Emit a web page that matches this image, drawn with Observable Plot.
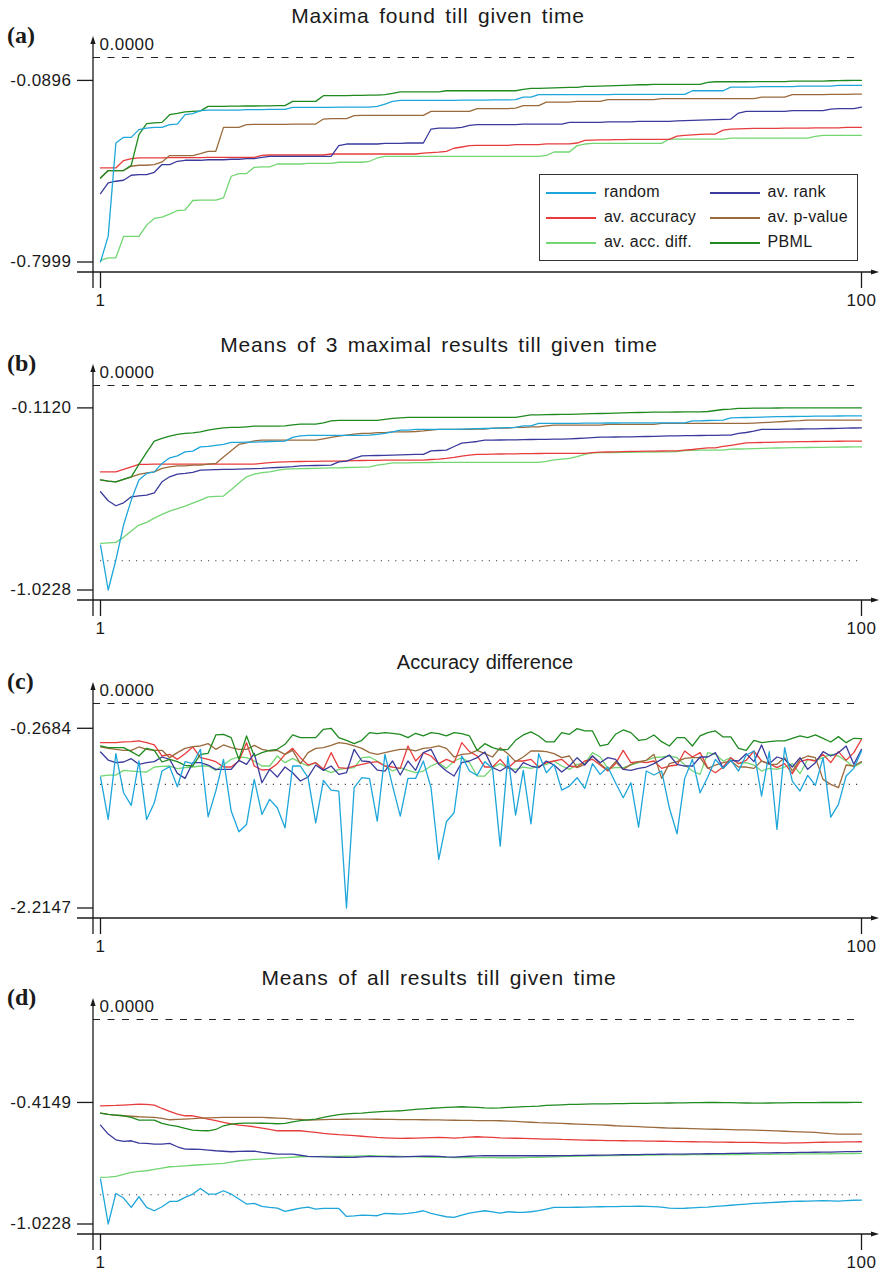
<!DOCTYPE html>
<html><head><meta charset="utf-8">
<script src="https://cdn.jsdelivr.net/npm/d3@7"></script>
<script src="https://cdn.jsdelivr.net/npm/@observablehq/plot@0.6"></script>
<style>
body{margin:0;background:#fff;}
#root{position:relative;width:882px;height:1271px;font-family:"Liberation Sans",Arial,Helvetica,sans-serif;color:#1a1a1a;}
.title{position:absolute;left:0;width:876px;text-align:center;font-size:21px;letter-spacing:0.8px;word-spacing:3px;line-height:24px;white-space:nowrap;}
.tag{position:absolute;left:7px;font-family:"Liberation Serif","Times New Roman",serif;font-weight:bold;font-size:24px;line-height:24px;}
.panel{position:absolute;left:0;}
.legend{position:absolute;left:539px;top:173.7px;width:317px;height:85px;border:1.4px solid #333;background:#fff;}
.lg-line{position:absolute;width:50px;height:2px;}
.lg-text{position:absolute;font-size:16px;letter-spacing:0.3px;line-height:18px;white-space:nowrap;}
</style></head><body><div id="root"></div>
<script>
// ---------- data ----------
const seriesNames = ["random", "av. rank", "av. accuracy", "av. p-value", "av. acc. diff.", "PBML"];
const seriesColors = ["#1ea6da", "#3a3a9c", "#e83c3c", "#9a6a3c", "#72d672", "#1f8a1f"];
const titles = ["Maxima found till given time", "Means of 3 maximal results till given time", "Accuracy difference", "Means of all results till given time"];
const tags = ["(a)", "(b)", "(c)", "(d)"];
const xTicks = [1, 100];
const yTicksA = [-0.0896, -0.7999];
const yTicksB = [-0.1120, -1.0228];
const yTicksC = [-0.2684, -2.2147];
const yTicksD = [-0.4149, -1.0228];
const randomMean = -0.8765;

// (a) Maxima found till given time
const randomA = [
-0.7999,-0.6987,-0.3345,-0.3123,-0.3123,-0.2822,-0.2760,-0.2732,-0.2732,-0.2627,
-0.2603,-0.2237,-0.2197,-0.2080,-0.2057,-0.2057,-0.2057,-0.2057,-0.2057,-0.2040,
-0.2040,-0.2040,-0.2030,-0.2030,-0.2030,-0.1952,-0.1952,-0.1952,-0.1952,-0.1952,
-0.1952,-0.1940,-0.1940,-0.1940,-0.1940,-0.1940,-0.1913,-0.1823,-0.1717,-0.1678,
-0.1678,-0.1678,-0.1678,-0.1678,-0.1678,-0.1678,-0.1678,-0.1670,-0.1670,-0.1670,
-0.1670,-0.1660,-0.1660,-0.1660,-0.1651,-0.1550,-0.1550,-0.1456,-0.1456,-0.1456,
-0.1456,-0.1456,-0.1456,-0.1456,-0.1456,-0.1456,-0.1456,-0.1444,-0.1444,-0.1444,
-0.1444,-0.1444,-0.1444,-0.1444,-0.1444,-0.1444,-0.1444,-0.1300,-0.1300,-0.1300,
-0.1300,-0.1300,-0.1159,-0.1159,-0.1159,-0.1159,-0.1140,-0.1140,-0.1140,-0.1140,
-0.1140,-0.1120,-0.1120,-0.1120,-0.1120,-0.1120,-0.1093,-0.1093,-0.1093,-0.1093];
const rankA = [
-0.5320,-0.4906,-0.4840,-0.4801,-0.4606,-0.4578,-0.4578,-0.4489,-0.4188,-0.4188,
-0.4059,-0.4020,-0.4020,-0.4020,-0.4000,-0.4000,-0.4000,-0.3980,-0.3980,-0.3954,
-0.3954,-0.3903,-0.3864,-0.3864,-0.3864,-0.3864,-0.3864,-0.3864,-0.3864,-0.3864,
-0.3864,-0.3447,-0.3384,-0.3384,-0.3384,-0.3384,-0.3384,-0.3360,-0.3360,-0.3360,
-0.3345,-0.3345,-0.3345,-0.2799,-0.2760,-0.2760,-0.2760,-0.2732,-0.2654,-0.2627,
-0.2627,-0.2627,-0.2627,-0.2627,-0.2627,-0.2603,-0.2603,-0.2603,-0.2603,-0.2603,
-0.2603,-0.2537,-0.2537,-0.2537,-0.2537,-0.2537,-0.2520,-0.2520,-0.2520,-0.2520,
-0.2498,-0.2498,-0.2498,-0.2498,-0.2498,-0.2480,-0.2470,-0.2460,-0.2450,-0.2440,
-0.2430,-0.2420,-0.2408,-0.2174,-0.2108,-0.2108,-0.2108,-0.2108,-0.2108,-0.2108,
-0.2080,-0.2080,-0.2080,-0.2080,-0.2080,-0.2018,-0.2002,-0.2002,-0.2002,-0.1940];
const accuracyA = [
-0.4321,-0.4321,-0.4321,-0.4032,-0.3954,-0.3930,-0.3930,-0.3930,-0.3930,-0.3915,
-0.3915,-0.3915,-0.3915,-0.3915,-0.3903,-0.3903,-0.3903,-0.3903,-0.3903,-0.3903,
-0.3903,-0.3825,-0.3813,-0.3813,-0.3813,-0.3813,-0.3813,-0.3813,-0.3813,-0.3813,
-0.3774,-0.3774,-0.3774,-0.3774,-0.3774,-0.3774,-0.3774,-0.3774,-0.3774,-0.3774,
-0.3774,-0.3774,-0.3740,-0.3720,-0.3700,-0.3669,-0.3550,-0.3501,-0.3450,-0.3435,
-0.3435,-0.3435,-0.3435,-0.3435,-0.3410,-0.3410,-0.3410,-0.3410,-0.3380,-0.3380,
-0.3380,-0.3380,-0.3345,-0.3240,-0.3230,-0.3220,-0.3220,-0.3210,-0.3210,-0.3201,
-0.3201,-0.3201,-0.3201,-0.3201,-0.3201,-0.3072,-0.3044,-0.3030,-0.3010,-0.2994,
-0.2994,-0.2838,-0.2800,-0.2790,-0.2780,-0.2771,-0.2771,-0.2771,-0.2771,-0.2760,
-0.2760,-0.2760,-0.2760,-0.2750,-0.2750,-0.2750,-0.2750,-0.2732,-0.2732,-0.2732];
const pvalueA = [
-0.4711,-0.4422,-0.4422,-0.4422,-0.4254,-0.4215,-0.4215,-0.4188,-0.4087,-0.3837,
-0.3837,-0.3837,-0.3837,-0.3759,-0.3669,-0.3669,-0.2732,-0.2732,-0.2732,-0.2627,
-0.2615,-0.2615,-0.2615,-0.2615,-0.2615,-0.2603,-0.2603,-0.2603,-0.2603,-0.2408,
-0.2393,-0.2393,-0.2393,-0.2276,-0.2264,-0.2264,-0.2264,-0.2264,-0.2264,-0.2264,
-0.2264,-0.2264,-0.2264,-0.2108,-0.2108,-0.2108,-0.2108,-0.2108,-0.2108,-0.2002,
-0.2002,-0.2002,-0.2002,-0.2002,-0.1979,-0.1885,-0.1885,-0.1885,-0.1745,-0.1745,
-0.1745,-0.1745,-0.1717,-0.1717,-0.1717,-0.1717,-0.1651,-0.1651,-0.1651,-0.1651,
-0.1651,-0.1651,-0.1651,-0.1612,-0.1612,-0.1612,-0.1612,-0.1612,-0.1612,-0.1612,
-0.1612,-0.1612,-0.1612,-0.1612,-0.1612,-0.1612,-0.1550,-0.1550,-0.1550,-0.1550,
-0.1456,-0.1456,-0.1456,-0.1456,-0.1456,-0.1444,-0.1444,-0.1444,-0.1432,-0.1432];
const accDiffA = [
-0.7935,-0.7834,-0.7834,-0.6998,-0.6998,-0.6998,-0.6557,-0.6296,-0.6245,-0.6128,
-0.5984,-0.5972,-0.5593,-0.5582,-0.5582,-0.5582,-0.5492,-0.4645,-0.4539,-0.4539,
-0.4294,-0.4282,-0.4282,-0.4165,-0.4165,-0.4165,-0.4165,-0.4140,-0.4140,-0.4140,
-0.4140,-0.4098,-0.4098,-0.4098,-0.4098,-0.4059,-0.3930,-0.3864,-0.3864,-0.3864,
-0.3864,-0.3864,-0.3864,-0.3864,-0.3864,-0.3864,-0.3864,-0.3864,-0.3864,-0.3864,
-0.3864,-0.3864,-0.3864,-0.3864,-0.3864,-0.3864,-0.3864,-0.3864,-0.3825,-0.3696,
-0.3696,-0.3696,-0.3447,-0.3384,-0.3357,-0.3357,-0.3357,-0.3357,-0.3357,-0.3357,
-0.3357,-0.3357,-0.3357,-0.3357,-0.3189,-0.3189,-0.3189,-0.3189,-0.3189,-0.3189,
-0.3189,-0.3189,-0.3150,-0.3150,-0.3150,-0.3150,-0.3150,-0.3150,-0.3150,-0.3150,
-0.3150,-0.3150,-0.3150,-0.3084,-0.3044,-0.3044,-0.3044,-0.3044,-0.3044,-0.3044];
const pbmlA = [
-0.4711,-0.4422,-0.4422,-0.4422,-0.4215,-0.3017,-0.2588,-0.2557,-0.2537,-0.2237,
-0.2186,-0.2127,-0.2108,-0.2088,-0.1913,-0.1913,-0.1913,-0.1905,-0.1905,-0.1898,
-0.1898,-0.1893,-0.1893,-0.1885,-0.1885,-0.1717,-0.1717,-0.1717,-0.1717,-0.1495,
-0.1495,-0.1490,-0.1490,-0.1480,-0.1480,-0.1470,-0.1470,-0.1456,-0.1405,-0.1347,
-0.1347,-0.1347,-0.1347,-0.1347,-0.1347,-0.1300,-0.1300,-0.1300,-0.1300,-0.1300,
-0.1300,-0.1300,-0.1300,-0.1300,-0.1300,-0.1249,-0.1210,-0.1210,-0.1200,-0.1190,
-0.1180,-0.1171,-0.1171,-0.1132,-0.1132,-0.1120,-0.1110,-0.1100,-0.1093,-0.1080,
-0.1066,-0.1066,-0.1054,-0.1054,-0.1054,-0.1054,-0.1054,-0.1054,-0.1054,-0.0976,
-0.0948,-0.0948,-0.0948,-0.0948,-0.0948,-0.0940,-0.0940,-0.0940,-0.0940,-0.0940,
-0.0925,-0.0925,-0.0925,-0.0925,-0.0925,-0.0909,-0.0905,-0.0900,-0.0896,-0.0896];

// (b) Means of 3 maximal results till given time
const randomB = [
-0.7979,-1.0228,-0.8729,-0.6980,-0.5731,-0.4731,-0.4397,-0.4317,-0.3897,-0.3617,
-0.3517,-0.3317,-0.3283,-0.3068,-0.3048,-0.2998,-0.2948,-0.2848,-0.2848,-0.2830,
-0.2830,-0.2815,-0.2800,-0.2798,-0.2783,-0.2598,-0.2518,-0.2498,-0.2498,-0.2498,
-0.2498,-0.2498,-0.2498,-0.2498,-0.2498,-0.2483,-0.2448,-0.2398,-0.2318,-0.2233,
-0.2233,-0.2198,-0.2198,-0.2198,-0.2198,-0.2198,-0.2198,-0.2180,-0.2170,-0.2160,
-0.2150,-0.2140,-0.2120,-0.2110,-0.2098,-0.2018,-0.2018,-0.1899,-0.1899,-0.1899,
-0.1899,-0.1895,-0.1890,-0.1885,-0.1880,-0.1880,-0.1875,-0.1875,-0.1870,-0.1870,
-0.1870,-0.1869,-0.1869,-0.1869,-0.1869,-0.1869,-0.1869,-0.1769,-0.1769,-0.1750,
-0.1740,-0.1734,-0.1619,-0.1610,-0.1600,-0.1590,-0.1580,-0.1570,-0.1560,-0.1555,
-0.1550,-0.1545,-0.1540,-0.1535,-0.1530,-0.1528,-0.1525,-0.1522,-0.1520,-0.1519];
const rankB = [
-0.5316,-0.5766,-0.6015,-0.5866,-0.5566,-0.5520,-0.5481,-0.5366,-0.4816,-0.4567,
-0.4432,-0.4397,-0.4347,-0.4232,-0.4220,-0.4210,-0.4200,-0.4190,-0.4180,-0.4170,
-0.4160,-0.4147,-0.4120,-0.4100,-0.4080,-0.4060,-0.4017,-0.4010,-0.4000,-0.3990,
-0.3982,-0.3817,-0.3782,-0.3650,-0.3517,-0.3510,-0.3500,-0.3490,-0.3480,-0.3470,
-0.3460,-0.3447,-0.3447,-0.3268,-0.3250,-0.3233,-0.3050,-0.2883,-0.2840,-0.2800,
-0.2733,-0.2730,-0.2725,-0.2720,-0.2715,-0.2710,-0.2700,-0.2695,-0.2690,-0.2685,
-0.2683,-0.2670,-0.2650,-0.2630,-0.2610,-0.2583,-0.2580,-0.2575,-0.2570,-0.2565,
-0.2560,-0.2550,-0.2540,-0.2530,-0.2520,-0.2518,-0.2510,-0.2505,-0.2500,-0.2495,
-0.2490,-0.2485,-0.2483,-0.2398,-0.2350,-0.2280,-0.2198,-0.2195,-0.2190,-0.2185,
-0.2180,-0.2175,-0.2170,-0.2165,-0.2160,-0.2150,-0.2140,-0.2130,-0.2125,-0.2118];
const accuracyB = [
-0.4317,-0.4317,-0.4317,-0.4197,-0.4070,-0.3947,-0.3940,-0.3932,-0.3932,-0.3932,
-0.3932,-0.3932,-0.3932,-0.3932,-0.3932,-0.3932,-0.3932,-0.3932,-0.3932,-0.3932,
-0.3932,-0.3900,-0.3860,-0.3830,-0.3817,-0.3810,-0.3800,-0.3795,-0.3790,-0.3785,
-0.3782,-0.3782,-0.3770,-0.3760,-0.3750,-0.3745,-0.3740,-0.3736,-0.3733,-0.3732,
-0.3732,-0.3732,-0.3732,-0.3700,-0.3680,-0.3647,-0.3597,-0.3530,-0.3480,-0.3447,
-0.3440,-0.3430,-0.3425,-0.3420,-0.3415,-0.3410,-0.3405,-0.3400,-0.3397,-0.3397,
-0.3397,-0.3397,-0.3397,-0.3397,-0.3360,-0.3333,-0.3325,-0.3315,-0.3305,-0.3295,
-0.3290,-0.3285,-0.3280,-0.3275,-0.3270,-0.3268,-0.3230,-0.3200,-0.3160,-0.3118,
-0.3118,-0.3050,-0.2990,-0.2933,-0.2868,-0.2860,-0.2850,-0.2840,-0.2830,-0.2820,
-0.2815,-0.2810,-0.2805,-0.2800,-0.2795,-0.2790,-0.2788,-0.2786,-0.2784,-0.2783];
const pvalueB = [
-0.4716,-0.4781,-0.4816,-0.4696,-0.4567,-0.4447,-0.4367,-0.4317,-0.4147,-0.4067,
-0.4017,-0.4017,-0.3982,-0.3982,-0.3932,-0.3897,-0.3582,-0.3268,-0.2948,-0.2868,
-0.2768,-0.2733,-0.2733,-0.2733,-0.2733,-0.2733,-0.2733,-0.2733,-0.2733,-0.2668,
-0.2598,-0.2533,-0.2483,-0.2433,-0.2398,-0.2398,-0.2358,-0.2358,-0.2318,-0.2318,
-0.2318,-0.2300,-0.2273,-0.2233,-0.2198,-0.2198,-0.2198,-0.2198,-0.2198,-0.2183,
-0.2183,-0.2133,-0.2133,-0.2133,-0.2098,-0.2098,-0.2068,-0.2068,-0.2018,-0.1984,
-0.1984,-0.1984,-0.1984,-0.1984,-0.1984,-0.1984,-0.1949,-0.1949,-0.1949,-0.1949,
-0.1949,-0.1949,-0.1949,-0.1899,-0.1899,-0.1899,-0.1899,-0.1899,-0.1899,-0.1899,
-0.1899,-0.1899,-0.1899,-0.1899,-0.1899,-0.1880,-0.1859,-0.1840,-0.1819,-0.1800,
-0.1774,-0.1760,-0.1734,-0.1734,-0.1734,-0.1734,-0.1734,-0.1734,-0.1734,-0.1734];
const accDiffB = [
-0.7894,-0.7870,-0.7844,-0.7594,-0.7279,-0.6980,-0.6845,-0.6630,-0.6445,-0.6280,
-0.6155,-0.6030,-0.5881,-0.5731,-0.5566,-0.5550,-0.5531,-0.5211,-0.4881,-0.4567,
-0.4432,-0.4360,-0.4317,-0.4250,-0.4182,-0.4170,-0.4160,-0.4150,-0.4140,-0.4130,
-0.4120,-0.4117,-0.4100,-0.4090,-0.4080,-0.4067,-0.3982,-0.3930,-0.3867,-0.3867,
-0.3867,-0.3860,-0.3855,-0.3850,-0.3847,-0.3847,-0.3847,-0.3847,-0.3847,-0.3847,
-0.3847,-0.3847,-0.3847,-0.3847,-0.3847,-0.3847,-0.3847,-0.3847,-0.3800,-0.3720,
-0.3680,-0.3647,-0.3560,-0.3450,-0.3367,-0.3360,-0.3355,-0.3350,-0.3345,-0.3340,
-0.3335,-0.3330,-0.3325,-0.3320,-0.3317,-0.3300,-0.3250,-0.3240,-0.3235,-0.3233,
-0.3233,-0.3233,-0.3183,-0.3175,-0.3165,-0.3155,-0.3145,-0.3135,-0.3125,-0.3115,
-0.3110,-0.3105,-0.3100,-0.3095,-0.3090,-0.3085,-0.3080,-0.3075,-0.3070,-0.3068];
const pbmlB = [
-0.4716,-0.4781,-0.4816,-0.4696,-0.4567,-0.3947,-0.3347,-0.2783,-0.2648,-0.2533,
-0.2448,-0.2398,-0.2368,-0.2318,-0.2233,-0.2168,-0.2118,-0.2098,-0.2098,-0.2068,
-0.2033,-0.2033,-0.2033,-0.2033,-0.2018,-0.1969,-0.1934,-0.1934,-0.1934,-0.1869,
-0.1769,-0.1749,-0.1749,-0.1749,-0.1749,-0.1749,-0.1749,-0.1699,-0.1649,-0.1619,
-0.1590,-0.1590,-0.1590,-0.1590,-0.1590,-0.1590,-0.1590,-0.1590,-0.1590,-0.1590,
-0.1590,-0.1590,-0.1590,-0.1590,-0.1590,-0.1530,-0.1469,-0.1469,-0.1460,-0.1450,
-0.1445,-0.1440,-0.1434,-0.1420,-0.1410,-0.1400,-0.1390,-0.1380,-0.1369,-0.1360,
-0.1350,-0.1340,-0.1334,-0.1330,-0.1330,-0.1325,-0.1320,-0.1319,-0.1319,-0.1300,
-0.1250,-0.1200,-0.1184,-0.1149,-0.1140,-0.1135,-0.1130,-0.1128,-0.1126,-0.1124,
-0.1122,-0.1121,-0.1120,-0.1120,-0.1120,-0.1120,-0.1120,-0.1120,-0.1120,-0.1120];

// (c) Accuracy difference
const randomC = [
-0.7964,-1.2557,-0.5432,-0.9664,-1.1038,-0.6228,-1.2557,-1.0752,-0.7313,-0.6843,
-0.9013,-0.6300,-0.6517,-0.4962,-1.2268,-0.9483,-0.6047,-1.1653,-1.3895,-1.3100,
-0.8217,-1.2014,-1.0387,-1.1291,-1.3461,-0.6770,-0.6770,-0.8036,-1.2919,-0.8325,
-0.9374,-0.9483,-2.2147,-0.9121,-0.8036,-0.8145,-1.2738,-0.5504,-0.8940,-1.2195,
-0.8109,-0.8109,-0.6228,-0.9121,-1.6897,-1.2810,-1.1834,-0.5685,-0.7313,-0.7783,
-0.6300,-0.7024,-1.5450,-0.5685,-1.2087,-0.7241,-1.3027,-0.5432,-0.7494,-0.6590,
-0.9374,-0.8940,-0.8036,-0.9193,-0.6517,-0.7675,-0.6879,-0.8579,-1.0206,-0.8579,
-1.3389,-0.7313,-0.7747,-0.7313,-1.1291,-1.4112,-0.8109,-0.6047,-0.9664,-0.7964,
-0.6047,-0.7024,-0.6120,-0.7313,-0.5577,-0.5143,-1.0022,-0.5215,-1.3642,-0.4781,
-0.8398,-0.9483,-0.7783,-0.8868,-0.5866,-1.2304,-1.0933,-0.7856,-0.7024,-0.5143];
const rankC = [
-0.5251,-0.6120,-0.6409,-0.6336,-0.5975,-0.6590,-0.6409,-0.6300,-0.5794,-0.6047,
-0.7566,-0.8109,-0.6409,-0.6409,-0.6662,-0.7132,-0.7132,-0.7132,-0.6156,-0.6590,
-0.5396,-0.8579,-0.7132,-0.7964,-0.6879,-0.7494,-0.8398,-0.7964,-0.6662,-0.7241,
-0.6770,-0.7675,-0.7494,-0.4962,-0.6228,-0.6300,-0.7204,-0.7313,-0.6228,-0.7747,
-0.6228,-0.7241,-0.5324,-0.4962,-0.6590,-0.7313,-0.7856,-0.6409,-0.6228,-0.5866,
-0.5251,-0.6951,-0.7313,-0.6770,-0.7494,-0.6409,-0.6770,-0.6951,-0.6228,-0.6662,
-0.7421,-0.6770,-0.5866,-0.6662,-0.5685,-0.6409,-0.5866,-0.6047,-0.7132,-0.7241,
-0.7024,-0.6879,-0.6517,-0.6047,-0.5577,-0.6590,-0.6770,-0.6770,-0.5794,-0.5794,
-0.5324,-0.7024,-0.6156,-0.6228,-0.5432,-0.6300,-0.4492,-0.6517,-0.5794,-0.6047,
-0.6879,-0.5866,-0.7132,-0.6409,-0.5215,-0.5685,-0.5324,-0.4601,-0.6590,-0.4962];
const accuracyC = [
-0.4239,-0.4239,-0.4239,-0.4166,-0.4130,-0.4058,-0.4239,-0.4492,-0.5685,-0.5504,
-0.6047,-0.5432,-0.4709,-0.5866,-0.6047,-0.6300,-0.6879,-0.6879,-0.6228,-0.4239,
-0.6770,-0.7204,-0.7132,-0.6517,-0.5504,-0.4854,-0.5866,-0.6662,-0.6409,-0.7132,
-0.5324,-0.6951,-0.7024,-0.6770,-0.6590,-0.6409,-0.6300,-0.6770,-0.6879,-0.7024,
-0.4601,-0.6228,-0.5324,-0.5685,-0.6517,-0.6047,-0.6409,-0.4239,-0.5215,-0.5685,
-0.6879,-0.6879,-0.6047,-0.7024,-0.6228,-0.6228,-0.6047,-0.6879,-0.6409,-0.6228,
-0.6047,-0.6770,-0.6879,-0.6228,-0.6047,-0.6662,-0.7313,-0.6517,-0.5071,-0.6409,
-0.6300,-0.6409,-0.6228,-0.7024,-0.6770,-0.6662,-0.5143,-0.5794,-0.5324,-0.6951,
-0.7494,-0.6879,-0.5866,-0.6517,-0.6156,-0.5143,-0.6228,-0.6517,-0.6951,-0.6517,
-0.7602,-0.6300,-0.6047,-0.6228,-0.5504,-0.6409,-0.5215,-0.6156,-0.5324,-0.3877];
const pvalueC = [
-0.4709,-0.4854,-0.4962,-0.5071,-0.5071,-0.4709,-0.4962,-0.5071,-0.5071,-0.5866,
-0.5324,-0.4854,-0.4673,-0.4601,-0.4347,-0.4962,-0.4492,-0.4781,-0.4962,-0.4962,
-0.4528,-0.4962,-0.5143,-0.5071,-0.5504,-0.5071,-0.6517,-0.5324,-0.4854,-0.4781,
-0.4528,-0.4239,-0.4347,-0.4601,-0.4854,-0.5324,-0.5504,-0.5324,-0.5143,-0.4962,
-0.4962,-0.5143,-0.4854,-0.4781,-0.4601,-0.4854,-0.5794,-0.5504,-0.5432,-0.5071,
-0.5432,-0.5794,-0.4781,-0.5432,-0.6300,-0.5794,-0.5143,-0.5143,-0.5215,-0.5432,
-0.5866,-0.5685,-0.6951,-0.6590,-0.5685,-0.6517,-0.7241,-0.6300,-0.7132,-0.6590,
-0.6300,-0.6156,-0.5504,-0.8109,-0.6517,-0.6300,-0.5939,-0.5866,-0.5866,-0.7024,
-0.6662,-0.6409,-0.6228,-0.6879,-0.6879,-0.7024,-0.6228,-0.6590,-0.6590,-0.5866,
-0.7313,-0.6047,-0.5685,-0.5866,-0.8217,-0.8760,-0.9121,-0.6662,-0.6770,-0.6300];
const accDiffC = [
-0.7856,-0.7747,-0.7747,-0.7241,-0.7313,-0.7385,-0.7421,-0.6879,-0.6807,-0.6770,
-0.7060,-0.6951,-0.6879,-0.6770,-0.6770,-0.7241,-0.6662,-0.6047,-0.5794,-0.5866,
-0.6228,-0.6770,-0.6770,-0.5685,-0.6409,-0.5939,-0.6409,-0.6770,-0.6409,-0.7132,
-0.7494,-0.7132,-0.7024,-0.6951,-0.5866,-0.5794,-0.6228,-0.6770,-0.7313,-0.6951,
-0.7241,-0.7494,-0.7313,-0.6770,-0.6409,-0.7024,-0.6228,-0.5866,-0.6409,-0.7856,
-0.7856,-0.6951,-0.6517,-0.7024,-0.7132,-0.6879,-0.7024,-0.6770,-0.6590,-0.6228,
-0.6770,-0.7132,-0.6590,-0.6517,-0.5324,-0.5794,-0.7024,-0.6951,-0.6951,-0.6662,
-0.6409,-0.6156,-0.5866,-0.5794,-0.5685,-0.5866,-0.6662,-0.7313,-0.7675,-0.5324,
-0.5504,-0.6228,-0.5866,-0.6517,-0.6409,-0.6662,-0.7313,-0.7024,-0.7132,-0.6879,
-0.6517,-0.7602,-0.6047,-0.6156,-0.5866,-0.5504,-0.5685,-0.6228,-0.6879,-0.6409];
const pbmlC = [
-0.4601,-0.4781,-0.4781,-0.4781,-0.5215,-0.5685,-0.4854,-0.5071,-0.6336,-0.6047,
-0.6300,-0.6698,-0.6770,-0.5504,-0.5396,-0.3407,-0.3335,-0.3696,-0.6047,-0.3516,
-0.5685,-0.5324,-0.5071,-0.4962,-0.4420,-0.3407,-0.3696,-0.3696,-0.3696,-0.2792,
-0.2684,-0.3696,-0.3986,-0.4347,-0.3986,-0.3154,-0.3262,-0.3154,-0.3226,-0.3335,
-0.3696,-0.3226,-0.3516,-0.3154,-0.3262,-0.3516,-0.3154,-0.3262,-0.3516,-0.5071,
-0.4347,-0.4781,-0.5034,-0.4962,-0.3986,-0.3407,-0.3081,-0.3516,-0.4166,-0.4166,
-0.3154,-0.3335,-0.2720,-0.2973,-0.2973,-0.4601,-0.4420,-0.3335,-0.2864,-0.3154,
-0.3986,-0.3877,-0.3407,-0.4130,-0.4601,-0.3696,-0.3696,-0.4601,-0.3516,-0.3154,
-0.2973,-0.3624,-0.3624,-0.4854,-0.5071,-0.3986,-0.4239,-0.4130,-0.4058,-0.4058,
-0.3769,-0.3516,-0.3696,-0.3407,-0.3769,-0.4166,-0.3588,-0.4239,-0.3769,-0.3805];

// (d) Means of all results till given time
const randomD = [
-0.7980,-1.0228,-0.8700,-0.8930,-0.9400,-0.8865,-0.9400,-0.9565,-0.9365,-0.9100,
-0.9100,-0.8900,-0.8730,-0.8450,-0.8730,-0.8730,-0.8565,-0.8730,-0.8980,-0.9230,
-0.9200,-0.9350,-0.9400,-0.9430,-0.9600,-0.9515,-0.9430,-0.9380,-0.9480,-0.9450,
-0.9450,-0.9450,-0.9850,-0.9820,-0.9780,-0.9800,-0.9815,-0.9700,-0.9715,-0.9730,
-0.9700,-0.9650,-0.9565,-0.9700,-0.9780,-0.9865,-0.9900,-0.9780,-0.9680,-0.9620,
-0.9565,-0.9620,-0.9680,-0.9615,-0.9640,-0.9650,-0.9615,-0.9560,-0.9480,-0.9400,
-0.9400,-0.9400,-0.9390,-0.9380,-0.9370,-0.9365,-0.9360,-0.9355,-0.9350,-0.9345,
-0.9340,-0.9350,-0.9360,-0.9380,-0.9430,-0.9450,-0.9440,-0.9420,-0.9400,-0.9380,
-0.9350,-0.9320,-0.9290,-0.9260,-0.9230,-0.9200,-0.9180,-0.9160,-0.9140,-0.9115,
-0.9100,-0.9090,-0.9080,-0.9070,-0.9065,-0.9075,-0.9085,-0.9060,-0.9040,-0.9030];
const rankD = [
-0.5280,-0.5730,-0.6015,-0.6100,-0.6065,-0.6180,-0.6200,-0.6230,-0.6230,-0.6200,
-0.6365,-0.6480,-0.6490,-0.6500,-0.6530,-0.6565,-0.6590,-0.6615,-0.6600,-0.6590,
-0.6580,-0.6650,-0.6690,-0.6730,-0.6730,-0.6730,-0.6790,-0.6850,-0.6860,-0.6870,
-0.6880,-0.6890,-0.6900,-0.6890,-0.6870,-0.6850,-0.6855,-0.6860,-0.6865,-0.6870,
-0.6860,-0.6850,-0.6840,-0.6830,-0.6850,-0.6870,-0.6880,-0.6860,-0.6840,-0.6825,
-0.6815,-0.6815,-0.6815,-0.6815,-0.6815,-0.6815,-0.6815,-0.6815,-0.6815,-0.6815,
-0.6810,-0.6805,-0.6800,-0.6795,-0.6790,-0.6785,-0.6780,-0.6770,-0.6765,-0.6760,
-0.6755,-0.6750,-0.6745,-0.6740,-0.6735,-0.6732,-0.6730,-0.6725,-0.6720,-0.6715,
-0.6710,-0.6705,-0.6700,-0.6695,-0.6690,-0.6680,-0.6675,-0.6670,-0.6665,-0.6660,
-0.6655,-0.6650,-0.6645,-0.6640,-0.6635,-0.6630,-0.6620,-0.6610,-0.6605,-0.6600];
const accuracyD = [
-0.4315,-0.4310,-0.4300,-0.4280,-0.4255,-0.4230,-0.4250,-0.4280,-0.4450,-0.4600,
-0.4730,-0.4815,-0.4815,-0.4900,-0.4980,-0.5060,-0.5150,-0.5215,-0.5280,-0.5320,
-0.5365,-0.5430,-0.5500,-0.5565,-0.5565,-0.5565,-0.5565,-0.5610,-0.5650,-0.5700,
-0.5730,-0.5760,-0.5780,-0.5810,-0.5840,-0.5870,-0.5900,-0.5920,-0.5935,-0.5950,
-0.5940,-0.5930,-0.5920,-0.5910,-0.5900,-0.5910,-0.5930,-0.5910,-0.5880,-0.5865,
-0.5880,-0.5900,-0.5920,-0.5930,-0.5940,-0.5950,-0.5960,-0.5970,-0.5980,-0.5980,
-0.6000,-0.6010,-0.6020,-0.6030,-0.6040,-0.6050,-0.6055,-0.6060,-0.6065,-0.6070,
-0.6075,-0.6080,-0.6085,-0.6090,-0.6100,-0.6105,-0.6110,-0.6115,-0.6120,-0.6125,
-0.6130,-0.6135,-0.6140,-0.6145,-0.6150,-0.6150,-0.6160,-0.6170,-0.6175,-0.6180,
-0.6175,-0.6170,-0.6160,-0.6150,-0.6140,-0.6135,-0.6130,-0.6125,-0.6120,-0.6115];
const pvalueD = [
-0.4680,-0.4750,-0.4790,-0.4815,-0.4840,-0.4865,-0.4880,-0.4900,-0.4950,-0.5015,
-0.5000,-0.4980,-0.4960,-0.4930,-0.4920,-0.4910,-0.4900,-0.4900,-0.4900,-0.4900,
-0.4900,-0.4900,-0.4915,-0.4930,-0.4950,-0.4980,-0.5000,-0.5030,-0.5020,-0.5010,
-0.5000,-0.4995,-0.4990,-0.4985,-0.4980,-0.4985,-0.4990,-0.4995,-0.5000,-0.5005,
-0.5010,-0.5010,-0.5015,-0.5020,-0.5020,-0.5030,-0.5040,-0.5045,-0.5050,-0.5055,
-0.5060,-0.5062,-0.5065,-0.5080,-0.5100,-0.5120,-0.5140,-0.5160,-0.5170,-0.5180,
-0.5200,-0.5215,-0.5230,-0.5245,-0.5260,-0.5275,-0.5290,-0.5315,-0.5330,-0.5345,
-0.5360,-0.5380,-0.5400,-0.5415,-0.5430,-0.5440,-0.5450,-0.5460,-0.5470,-0.5480,
-0.5490,-0.5500,-0.5510,-0.5520,-0.5525,-0.5530,-0.5545,-0.5560,-0.5575,-0.5590,
-0.5605,-0.5620,-0.5635,-0.5650,-0.5680,-0.5710,-0.5730,-0.5730,-0.5730,-0.5730];
const accDiffD = [
-0.7900,-0.7880,-0.7850,-0.7750,-0.7650,-0.7600,-0.7565,-0.7500,-0.7430,-0.7365,
-0.7350,-0.7320,-0.7290,-0.7265,-0.7245,-0.7220,-0.7200,-0.7130,-0.7065,-0.7030,
-0.7000,-0.6980,-0.6955,-0.6930,-0.6910,-0.6890,-0.6865,-0.6860,-0.6855,-0.6850,
-0.6850,-0.6845,-0.6840,-0.6830,-0.6820,-0.6815,-0.6820,-0.6830,-0.6840,-0.6850,
-0.6860,-0.6870,-0.6880,-0.6890,-0.6900,-0.6900,-0.6905,-0.6905,-0.6910,-0.6910,
-0.6912,-0.6913,-0.6914,-0.6915,-0.6915,-0.6910,-0.6900,-0.6890,-0.6880,-0.6870,
-0.6860,-0.6850,-0.6840,-0.6830,-0.6820,-0.6815,-0.6810,-0.6805,-0.6800,-0.6795,
-0.6790,-0.6785,-0.6780,-0.6775,-0.6770,-0.6768,-0.6765,-0.6762,-0.6760,-0.6758,
-0.6756,-0.6754,-0.6752,-0.6751,-0.6750,-0.6750,-0.6745,-0.6740,-0.6735,-0.6730,
-0.6728,-0.6725,-0.6722,-0.6720,-0.6717,-0.6714,-0.6710,-0.6706,-0.6703,-0.6700];
const pbmlD = [
-0.4680,-0.4750,-0.4780,-0.4815,-0.4900,-0.5030,-0.5030,-0.5030,-0.5200,-0.5280,
-0.5350,-0.5440,-0.5530,-0.5560,-0.5565,-0.5500,-0.5315,-0.5230,-0.5200,-0.5180,
-0.5180,-0.5190,-0.5200,-0.5215,-0.5200,-0.5115,-0.5060,-0.5020,-0.4980,-0.4900,
-0.4815,-0.4760,-0.4720,-0.4700,-0.4680,-0.4650,-0.4620,-0.4600,-0.4580,-0.4565,
-0.4530,-0.4500,-0.4470,-0.4440,-0.4420,-0.4400,-0.4380,-0.4365,-0.4380,-0.4400,
-0.4420,-0.4430,-0.4420,-0.4400,-0.4380,-0.4360,-0.4350,-0.4330,-0.4300,-0.4280,
-0.4265,-0.4250,-0.4240,-0.4230,-0.4225,-0.4220,-0.4215,-0.4210,-0.4205,-0.4200,
-0.4195,-0.4190,-0.4185,-0.4180,-0.4175,-0.4170,-0.4165,-0.4160,-0.4155,-0.4150,
-0.4150,-0.4155,-0.4160,-0.4170,-0.4175,-0.4180,-0.4180,-0.4175,-0.4170,-0.4165,
-0.4160,-0.4158,-0.4155,-0.4153,-0.4152,-0.4151,-0.4150,-0.4150,-0.4149,-0.4149];

// ---------- layout ----------
const panels = [
  {series: [randomA, rankA, accuracyA, pvalueA, accDiffA, pbmlA], ticks: yTicksA, zero: 56.5, titleCenter: 438, titleStyle: ""},
  {series: [randomB, rankB, accuracyB, pvalueB, accDiffB, pbmlB], ticks: yTicksB, zero: 385.3, titleCenter: 439, titleStyle: ""},
  {series: [randomC, rankC, accuracyC, pvalueC, accDiffC, pbmlC], ticks: yTicksC, zero: 702.6, titleCenter: 485, titleStyle: "font-size:20px;letter-spacing:0px;word-spacing:1px;"},
  {series: [randomD, rankD, accuracyD, pvalueD, accDiffD, pbmlD], ticks: yTicksD, zero: 1018.7, titleCenter: 439, titleStyle: ""}
];
const drawOrder = [4, 2, 3, 1, 5, 0];
const root = document.getElementById("root");
const TOP = 30, SPAN = 204.5, H = 285, MB = 40;

panels.forEach((p, k) => {
  const t = document.createElement("div");
  t.className = "title"; t.textContent = titles[k];
  t.style.cssText = p.titleStyle;
  t.style.width = (2 * p.titleCenter) + "px";
  t.style.top = (p.zero - 40.5 - 12) + "px";
  root.appendChild(t);
  const g = document.createElement("div");
  g.className = "tag"; g.textContent = tags[k];
  g.style.top = (p.zero - 22 - 12) + "px";
  root.appendChild(g);

  const yMin = d3.min(p.ticks);
  const marks = [
    Plot.ruleY([0], {stroke: "#222", strokeWidth: 1.2, strokeDasharray: "7,7.5"}),
    Plot.ruleY([randomMean].filter(v => v >= yMin), {x1: xTicks[0], x2: xTicks[1], stroke: "#444", strokeWidth: 1.2, strokeDasharray: "1.2,6"}),
    ...drawOrder.map(s => Plot.line(p.series[s], {x: (d, i) => i + 1, y: d => d, stroke: seriesColors[s], strokeWidth: 1.3})),
    Plot.axisY(p.ticks, {anchor: "left", tickSize: 16, tickPadding: 6, strokeWidth: 1.3, tickFormat: d => d.toFixed(4), label: null, fontSize: 17}),
    Plot.axisX(xTicks, {anchor: "bottom", tickSize: 16, tickPadding: 5, strokeWidth: 1.3, tickFormat: d => String(d), label: null, fontSize: 17}),
    Plot.text([0], {x: () => xTicks[0], y: d => d, text: d => d.toFixed(4), textAnchor: "start", dx: -1, dy: -13, fontSize: 17, fill: "#1a1a1a"})
  ];
  const svg = Plot.plot({
    width: 882, height: H,
    marginLeft: 93, marginRight: 21, marginTop: TOP, marginBottom: MB,
    x: {domain: [1, 100], range: [100, 861]},
    y: {domain: [yMin, 0], range: [TOP + SPAN, TOP]},
    style: {fontFamily: '"Liberation Sans", Arial, Helvetica, sans-serif', fontSize: "17px", letterSpacing: "0.5px", color: "#1a1a1a", background: "transparent", overflow: "visible"},
    marks
  });
  const fb = H - MB;
  const s = d3.select(svg);
  const ax = s.append("g").attr("stroke", "#1a1a1a").attr("stroke-width", 1.3).attr("fill", "none");
  ax.append("line").attr("x1", 93).attr("x2", 93).attr("y1", TOP - 17).attr("y2", fb + 16);
  ax.append("line").attr("x1", 77).attr("x2", 874).attr("y1", fb).attr("y2", fb);
  s.append("path").attr("d", `M93,${TOP - 21}L90.4,${TOP - 13}L95.6,${TOP - 13}Z`).attr("fill", "#1a1a1a");
  s.append("path").attr("d", `M879,${fb}L871,${fb - 2.6}L871,${fb + 2.6}Z`).attr("fill", "#1a1a1a");
  const wrap = document.createElement("div");
  wrap.className = "panel";
  wrap.style.top = (p.zero - TOP) + "px";
  wrap.appendChild(svg);
  root.appendChild(wrap);
});

// legend (panel a)
const lg = document.createElement("div");
lg.className = "legend";
const rowsY = [18.6, 43.6, 68.8];
seriesNames.forEach((name, k) => {
  const col = k % 2, row = Math.floor(k / 2);
  const ln = document.createElement("div");
  ln.className = "lg-line";
  ln.style.background = seriesColors[k];
  ln.style.left = (col ? 170.3 : 6.3) + "px";
  ln.style.top = (rowsY[row] - 1) + "px";
  lg.appendChild(ln);
  const tx = document.createElement("div");
  tx.className = "lg-text";
  tx.textContent = name;
  tx.style.left = (col ? 227.6 : 63.9) + "px";
  tx.style.top = (rowsY[row] - 10) + "px";
  lg.appendChild(tx);
});
root.appendChild(lg);
</script></body></html>
